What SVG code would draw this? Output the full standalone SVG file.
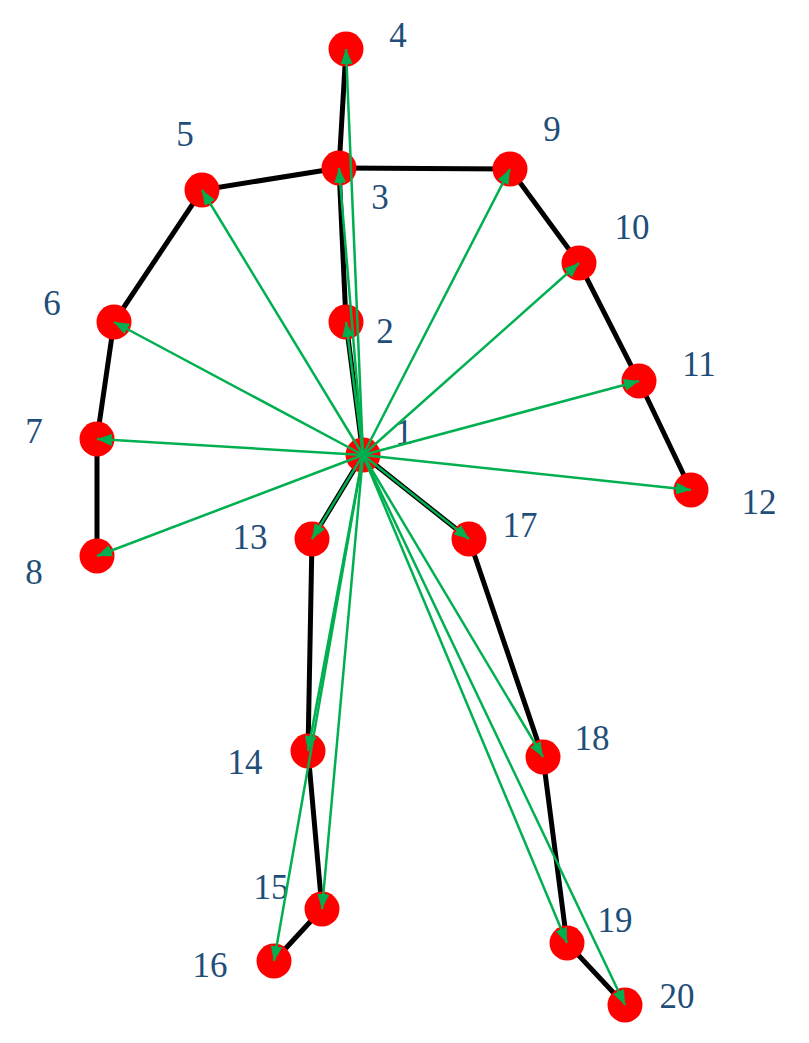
<svg xmlns="http://www.w3.org/2000/svg" width="809" height="1043" viewBox="0 0 809 1043">
<style>
.bone{stroke:#000;stroke-width:5;fill:none;stroke-linecap:round}
.joint{fill:#ff0000}
.lbl{font-family:"Liberation Serif","Times New Roman",serif;font-size:35px;fill:#1f4e79;text-anchor:middle}
.arr{stroke:#00b050;stroke-width:2.5;fill:none;marker-end:url(#ah)}
</style>
<defs>
<marker id="ah" markerUnits="userSpaceOnUse" markerWidth="16" markerHeight="12" refX="15" refY="6" orient="auto">
<path d="M0,0 L15,6 L0,12 z" fill="#00b050"/>
</marker>
</defs>
<g id="bones">
<path class="bone" d="M363,455 L346,322 L339,168 L346,49"/>
<path class="bone" d="M339,168 L202,190 L114,322 L97,439 L97,556"/>
<path class="bone" d="M339,168 L510,169 L579,263 L639,381 L691,490"/>
<path class="bone" d="M363,455 L312,539 L308,751 L322,909 L274,961"/>
<path class="bone" d="M363,455 L469,539 L543,757 L567,943 L625,1005"/>
</g>
<g id="node1"><circle class="joint" cx="363" cy="455" r="17.5"/><text class="lbl" x="404" y="444">1</text></g>
<g id="node2"><circle class="joint" cx="346" cy="322" r="17.5"/><text class="lbl" x="385" y="343">2</text></g>
<g id="node3"><circle class="joint" cx="339" cy="168" r="17.5"/><text class="lbl" x="380" y="209">3</text></g>
<g id="node4"><circle class="joint" cx="346" cy="49" r="17.5"/><text class="lbl" x="398" y="47">4</text></g>
<g id="node5"><circle class="joint" cx="202" cy="190" r="17.5"/><text class="lbl" x="185" y="146">5</text></g>
<g id="node6"><circle class="joint" cx="114" cy="322" r="17.5"/><text class="lbl" x="52" y="315">6</text></g>
<g id="node7"><circle class="joint" cx="97" cy="439" r="17.5"/><text class="lbl" x="34" y="443">7</text></g>
<g id="node8"><circle class="joint" cx="97" cy="556" r="17.5"/><text class="lbl" x="34" y="584">8</text></g>
<g id="node9"><circle class="joint" cx="510" cy="169" r="17.5"/><text class="lbl" x="552" y="141">9</text></g>
<g id="node10"><circle class="joint" cx="579" cy="263" r="17.5"/><text class="lbl" x="632" y="239">10</text></g>
<g id="node11"><circle class="joint" cx="639" cy="381" r="17.5"/><text class="lbl" x="699" y="376">11</text></g>
<g id="node12"><circle class="joint" cx="691" cy="490" r="17.5"/><text class="lbl" x="759" y="514">12</text></g>
<g id="node13"><circle class="joint" cx="312" cy="539" r="17.5"/><text class="lbl" x="250" y="549">13</text></g>
<g id="node14"><circle class="joint" cx="308" cy="751" r="17.5"/><text class="lbl" x="245" y="774">14</text></g>
<g id="node15"><circle class="joint" cx="322" cy="909" r="17.5"/><text class="lbl" x="271" y="899">15</text></g>
<g id="node16"><circle class="joint" cx="274" cy="961" r="17.5"/><text class="lbl" x="210" y="977">16</text></g>
<g id="node17"><circle class="joint" cx="469" cy="539" r="17.5"/><text class="lbl" x="520" y="537">17</text></g>
<g id="node18"><circle class="joint" cx="543" cy="757" r="17.5"/><text class="lbl" x="592" y="750">18</text></g>
<g id="node19"><circle class="joint" cx="567" cy="943" r="17.5"/><text class="lbl" x="615" y="932">19</text></g>
<g id="node20"><circle class="joint" cx="625" cy="1005" r="17.5"/><text class="lbl" x="677" y="1008">20</text></g>
<g id="connectors">
<line class="arr" x1="363" y1="455" x2="346" y2="322"/>
<line class="arr" x1="363" y1="455" x2="339" y2="168"/>
<line class="arr" x1="363" y1="455" x2="346" y2="49"/>
<line class="arr" x1="363" y1="455" x2="202" y2="190"/>
<line class="arr" x1="363" y1="455" x2="114" y2="322"/>
<line class="arr" x1="363" y1="455" x2="97" y2="439"/>
<line class="arr" x1="363" y1="455" x2="97" y2="556"/>
<line class="arr" x1="363" y1="455" x2="510" y2="169"/>
<line class="arr" x1="363" y1="455" x2="579" y2="263"/>
<line class="arr" x1="363" y1="455" x2="639" y2="381"/>
<line class="arr" x1="363" y1="455" x2="691" y2="490"/>
<line class="arr" x1="363" y1="455" x2="312" y2="539"/>
<line class="arr" x1="363" y1="455" x2="308" y2="751"/>
<line class="arr" x1="363" y1="455" x2="322" y2="909"/>
<line class="arr" x1="363" y1="455" x2="274" y2="961"/>
<line class="arr" x1="363" y1="455" x2="469" y2="539"/>
<line class="arr" x1="363" y1="455" x2="543" y2="757"/>
<line class="arr" x1="363" y1="455" x2="567" y2="943"/>
<line class="arr" x1="363" y1="455" x2="625" y2="1005"/>
</g>
</svg>
